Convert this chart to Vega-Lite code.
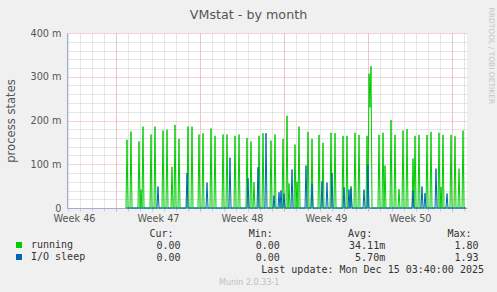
{
  "$schema": "https://vega.github.io/schema/vega-lite/v6.json",
  "width": 400,
  "height": 175,
  "autosize": {"type": "none"},
  "padding": {"left": 67, "top": 33, "right": 30, "bottom": 84},
  "background": "#f0f0f0",
  "config": {
    "view": {"fill": "#ffffff", "stroke": null},
    "font": "DejaVu Sans",
    "axis": {"labelFont": "DejaVu Sans", "titleFont": "DejaVu Sans", "titleFontWeight": "normal"}
  },
  "datasets": {
    "series": [
      {"t": "2025-11-17T20:00Z", "running": 0, "I/O sleep": 0},
      {"t": "2025-11-17T22:00Z", "running": 0.156, "I/O sleep": 0},
      {"t": "2025-11-18T00:00Z", "running": 0, "I/O sleep": 0},
      {"t": "2025-11-18T04:00Z", "running": 0, "I/O sleep": 0},
      {"t": "2025-11-18T06:00Z", "running": 0.175, "I/O sleep": 0},
      {"t": "2025-11-18T08:00Z", "running": 0, "I/O sleep": 0},
      {"t": "2025-11-18T20:00Z", "running": 0, "I/O sleep": 0},
      {"t": "2025-11-18T22:00Z", "running": 0.152, "I/O sleep": 0},
      {"t": "2025-11-19T00:00Z", "running": 0, "I/O sleep": 0},
      {"t": "2025-11-19T02:00Z", "running": 0.042, "I/O sleep": 0},
      {"t": "2025-11-19T04:00Z", "running": 0, "I/O sleep": 0},
      {"t": "2025-11-19T06:00Z", "running": 0.186, "I/O sleep": 0},
      {"t": "2025-11-19T08:00Z", "running": 0, "I/O sleep": 0},
      {"t": "2025-11-19T20:00Z", "running": 0, "I/O sleep": 0},
      {"t": "2025-11-19T22:00Z", "running": 0.168, "I/O sleep": 0},
      {"t": "2025-11-20T00:00Z", "running": 0, "I/O sleep": 0},
      {"t": "2025-11-20T04:00Z", "running": 0, "I/O sleep": 0},
      {"t": "2025-11-20T06:00Z", "running": 0.186, "I/O sleep": 0},
      {"t": "2025-11-20T08:00Z", "running": 0, "I/O sleep": 0},
      {"t": "2025-11-20T10:00Z", "running": 0, "I/O sleep": 0},
      {"t": "2025-11-20T12:00Z", "running": 0, "I/O sleep": 0.049},
      {"t": "2025-11-20T14:00Z", "running": 0, "I/O sleep": 0},
      {"t": "2025-11-20T20:00Z", "running": 0, "I/O sleep": 0},
      {"t": "2025-11-20T22:00Z", "running": 0.177, "I/O sleep": 0},
      {"t": "2025-11-21T00:00Z", "running": 0, "I/O sleep": 0},
      {"t": "2025-11-21T04:00Z", "running": 0, "I/O sleep": 0},
      {"t": "2025-11-21T06:00Z", "running": 0.179, "I/O sleep": 0},
      {"t": "2025-11-21T08:00Z", "running": 0, "I/O sleep": 0},
      {"t": "2025-11-21T14:00Z", "running": 0, "I/O sleep": 0},
      {"t": "2025-11-21T16:00Z", "running": 0.094, "I/O sleep": 0},
      {"t": "2025-11-21T18:00Z", "running": 0, "I/O sleep": 0},
      {"t": "2025-11-21T20:00Z", "running": 0, "I/O sleep": 0},
      {"t": "2025-11-21T22:00Z", "running": 0.19, "I/O sleep": 0},
      {"t": "2025-11-22T00:00Z", "running": 0, "I/O sleep": 0},
      {"t": "2025-11-22T04:00Z", "running": 0, "I/O sleep": 0},
      {"t": "2025-11-22T06:00Z", "running": 0.158, "I/O sleep": 0},
      {"t": "2025-11-22T08:00Z", "running": 0, "I/O sleep": 0},
      {"t": "2025-11-22T20:00Z", "running": 0, "I/O sleep": 0},
      {"t": "2025-11-22T22:00Z", "running": 0, "I/O sleep": 0.08},
      {"t": "2025-11-23T00:00Z", "running": 0.186, "I/O sleep": 0},
      {"t": "2025-11-23T02:00Z", "running": 0, "I/O sleep": 0},
      {"t": "2025-11-23T06:00Z", "running": 0, "I/O sleep": 0},
      {"t": "2025-11-23T08:00Z", "running": 0.186, "I/O sleep": 0},
      {"t": "2025-11-23T10:00Z", "running": 0, "I/O sleep": 0},
      {"t": "2025-11-23T20:00Z", "running": 0, "I/O sleep": 0},
      {"t": "2025-11-23T22:00Z", "running": 0.168, "I/O sleep": 0},
      {"t": "2025-11-24T00:00Z", "running": 0, "I/O sleep": 0},
      {"t": "2025-11-24T04:00Z", "running": 0, "I/O sleep": 0},
      {"t": "2025-11-24T06:00Z", "running": 0.171, "I/O sleep": 0},
      {"t": "2025-11-24T08:00Z", "running": 0, "I/O sleep": 0},
      {"t": "2025-11-24T12:00Z", "running": 0, "I/O sleep": 0},
      {"t": "2025-11-24T14:00Z", "running": 0, "I/O sleep": 0.058},
      {"t": "2025-11-24T16:00Z", "running": 0, "I/O sleep": 0},
      {"t": "2025-11-24T20:00Z", "running": 0, "I/O sleep": 0},
      {"t": "2025-11-24T22:00Z", "running": 0.182, "I/O sleep": 0},
      {"t": "2025-11-25T00:00Z", "running": 0, "I/O sleep": 0},
      {"t": "2025-11-25T04:00Z", "running": 0, "I/O sleep": 0},
      {"t": "2025-11-25T06:00Z", "running": 0.165, "I/O sleep": 0},
      {"t": "2025-11-25T08:00Z", "running": 0, "I/O sleep": 0},
      {"t": "2025-11-25T20:00Z", "running": 0, "I/O sleep": 0},
      {"t": "2025-11-25T22:00Z", "running": 0.168, "I/O sleep": 0},
      {"t": "2025-11-26T00:00Z", "running": 0, "I/O sleep": 0},
      {"t": "2025-11-26T04:00Z", "running": 0, "I/O sleep": 0},
      {"t": "2025-11-26T06:00Z", "running": 0.168, "I/O sleep": 0},
      {"t": "2025-11-26T08:00Z", "running": 0, "I/O sleep": 0},
      {"t": "2025-11-26T10:00Z", "running": 0, "I/O sleep": 0},
      {"t": "2025-11-26T12:00Z", "running": 0, "I/O sleep": 0.115},
      {"t": "2025-11-26T14:00Z", "running": 0, "I/O sleep": 0},
      {"t": "2025-11-26T20:00Z", "running": 0, "I/O sleep": 0},
      {"t": "2025-11-26T22:00Z", "running": 0.165, "I/O sleep": 0},
      {"t": "2025-11-27T00:00Z", "running": 0, "I/O sleep": 0},
      {"t": "2025-11-27T04:00Z", "running": 0, "I/O sleep": 0},
      {"t": "2025-11-27T06:00Z", "running": 0.168, "I/O sleep": 0},
      {"t": "2025-11-27T08:00Z", "running": 0, "I/O sleep": 0},
      {"t": "2025-11-27T20:00Z", "running": 0, "I/O sleep": 0},
      {"t": "2025-11-27T22:00Z", "running": 0.16, "I/O sleep": 0},
      {"t": "2025-11-28T00:00Z", "running": 0, "I/O sleep": 0.068},
      {"t": "2025-11-28T02:00Z", "running": 0, "I/O sleep": 0},
      {"t": "2025-11-28T04:00Z", "running": 0, "I/O sleep": 0},
      {"t": "2025-11-28T06:00Z", "running": 0.152, "I/O sleep": 0},
      {"t": "2025-11-28T08:00Z", "running": 0, "I/O sleep": 0},
      {"t": "2025-11-28T10:00Z", "running": 0, "I/O sleep": 0},
      {"t": "2025-11-28T12:00Z", "running": 0.059, "I/O sleep": 0},
      {"t": "2025-11-28T14:00Z", "running": 0, "I/O sleep": 0},
      {"t": "2025-11-28T18:00Z", "running": 0, "I/O sleep": 0},
      {"t": "2025-11-28T20:00Z", "running": 0, "I/O sleep": 0.093},
      {"t": "2025-11-28T22:00Z", "running": 0.165, "I/O sleep": 0},
      {"t": "2025-11-29T00:00Z", "running": 0, "I/O sleep": 0},
      {"t": "2025-11-29T04:00Z", "running": 0, "I/O sleep": 0},
      {"t": "2025-11-29T06:00Z", "running": 0.171, "I/O sleep": 0},
      {"t": "2025-11-29T08:00Z", "running": 0, "I/O sleep": 0},
      {"t": "2025-11-29T10:00Z", "running": 0, "I/O sleep": 0},
      {"t": "2025-11-29T12:00Z", "running": 0, "I/O sleep": 0.171},
      {"t": "2025-11-29T14:00Z", "running": 0, "I/O sleep": 0},
      {"t": "2025-11-29T20:00Z", "running": 0, "I/O sleep": 0},
      {"t": "2025-11-29T22:00Z", "running": 0.154, "I/O sleep": 0},
      {"t": "2025-11-30T00:00Z", "running": 0, "I/O sleep": 0},
      {"t": "2025-11-30T02:00Z", "running": 0, "I/O sleep": 0},
      {"t": "2025-11-30T04:00Z", "running": 0, "I/O sleep": 0.028},
      {"t": "2025-11-30T06:00Z", "running": 0.168, "I/O sleep": 0},
      {"t": "2025-11-30T08:00Z", "running": 0, "I/O sleep": 0},
      {"t": "2025-11-30T12:00Z", "running": 0, "I/O sleep": 0},
      {"t": "2025-11-30T14:00Z", "running": 0, "I/O sleep": 0.036},
      {"t": "2025-11-30T16:00Z", "running": 0, "I/O sleep": 0},
      {"t": "2025-11-30T18:00Z", "running": 0, "I/O sleep": 0.04},
      {"t": "2025-11-30T20:00Z", "running": 0, "I/O sleep": 0},
      {"t": "2025-11-30T22:00Z", "running": 0.158, "I/O sleep": 0},
      {"t": "2025-12-01T00:00Z", "running": 0, "I/O sleep": 0.033},
      {"t": "2025-12-01T02:00Z", "running": 0, "I/O sleep": 0},
      {"t": "2025-12-01T04:00Z", "running": 0, "I/O sleep": 0},
      {"t": "2025-12-01T06:00Z", "running": 0.211, "I/O sleep": 0},
      {"t": "2025-12-01T08:00Z", "running": 0, "I/O sleep": 0},
      {"t": "2025-12-01T10:00Z", "running": 0.056, "I/O sleep": 0},
      {"t": "2025-12-01T12:00Z", "running": 0, "I/O sleep": 0},
      {"t": "2025-12-01T14:00Z", "running": 0, "I/O sleep": 0},
      {"t": "2025-12-01T16:00Z", "running": 0, "I/O sleep": 0.088},
      {"t": "2025-12-01T18:00Z", "running": 0, "I/O sleep": 0},
      {"t": "2025-12-01T20:00Z", "running": 0, "I/O sleep": 0},
      {"t": "2025-12-01T22:00Z", "running": 0.145, "I/O sleep": 0},
      {"t": "2025-12-02T00:00Z", "running": 0, "I/O sleep": 0},
      {"t": "2025-12-02T02:00Z", "running": 0.06, "I/O sleep": 0},
      {"t": "2025-12-02T04:00Z", "running": 0, "I/O sleep": 0},
      {"t": "2025-12-02T06:00Z", "running": 0.186, "I/O sleep": 0},
      {"t": "2025-12-02T08:00Z", "running": 0, "I/O sleep": 0},
      {"t": "2025-12-02T18:00Z", "running": 0, "I/O sleep": 0},
      {"t": "2025-12-02T20:00Z", "running": 0, "I/O sleep": 0.097},
      {"t": "2025-12-02T22:00Z", "running": 0, "I/O sleep": 0},
      {"t": "2025-12-03T00:00Z", "running": 0.174, "I/O sleep": 0},
      {"t": "2025-12-03T02:00Z", "running": 0, "I/O sleep": 0},
      {"t": "2025-12-03T06:00Z", "running": 0, "I/O sleep": 0},
      {"t": "2025-12-03T08:00Z", "running": 0.158, "I/O sleep": 0.056},
      {"t": "2025-12-03T10:00Z", "running": 0, "I/O sleep": 0},
      {"t": "2025-12-03T20:00Z", "running": 0, "I/O sleep": 0},
      {"t": "2025-12-03T22:00Z", "running": 0.167, "I/O sleep": 0},
      {"t": "2025-12-04T00:00Z", "running": 0, "I/O sleep": 0},
      {"t": "2025-12-04T02:00Z", "running": 0, "I/O sleep": 0},
      {"t": "2025-12-04T04:00Z", "running": 0, "I/O sleep": 0.061},
      {"t": "2025-12-04T06:00Z", "running": 0.149, "I/O sleep": 0},
      {"t": "2025-12-04T08:00Z", "running": 0, "I/O sleep": 0},
      {"t": "2025-12-04T12:00Z", "running": 0, "I/O sleep": 0},
      {"t": "2025-12-04T14:00Z", "running": 0, "I/O sleep": 0.058},
      {"t": "2025-12-04T16:00Z", "running": 0, "I/O sleep": 0},
      {"t": "2025-12-04T20:00Z", "running": 0, "I/O sleep": 0},
      {"t": "2025-12-04T22:00Z", "running": 0.172, "I/O sleep": 0},
      {"t": "2025-12-05T00:00Z", "running": 0, "I/O sleep": 0.08},
      {"t": "2025-12-05T02:00Z", "running": 0, "I/O sleep": 0},
      {"t": "2025-12-05T04:00Z", "running": 0, "I/O sleep": 0},
      {"t": "2025-12-05T06:00Z", "running": 0.171, "I/O sleep": 0},
      {"t": "2025-12-05T08:00Z", "running": 0, "I/O sleep": 0},
      {"t": "2025-12-05T20:00Z", "running": 0, "I/O sleep": 0},
      {"t": "2025-12-05T22:00Z", "running": 0.165, "I/O sleep": 0},
      {"t": "2025-12-06T00:00Z", "running": 0, "I/O sleep": 0.047},
      {"t": "2025-12-06T02:00Z", "running": 0, "I/O sleep": 0},
      {"t": "2025-12-06T04:00Z", "running": 0, "I/O sleep": 0},
      {"t": "2025-12-06T06:00Z", "running": 0.165, "I/O sleep": 0},
      {"t": "2025-12-06T08:00Z", "running": 0, "I/O sleep": 0},
      {"t": "2025-12-06T10:00Z", "running": 0, "I/O sleep": 0.042},
      {"t": "2025-12-06T12:00Z", "running": 0, "I/O sleep": 0},
      {"t": "2025-12-06T14:00Z", "running": 0.05, "I/O sleep": 0.045},
      {"t": "2025-12-06T16:00Z", "running": 0, "I/O sleep": 0},
      {"t": "2025-12-06T20:00Z", "running": 0, "I/O sleep": 0},
      {"t": "2025-12-06T22:00Z", "running": 0.172, "I/O sleep": 0},
      {"t": "2025-12-07T00:00Z", "running": 0, "I/O sleep": 0},
      {"t": "2025-12-07T04:00Z", "running": 0, "I/O sleep": 0},
      {"t": "2025-12-07T06:00Z", "running": 0.167, "I/O sleep": 0},
      {"t": "2025-12-07T08:00Z", "running": 0, "I/O sleep": 0},
      {"t": "2025-12-07T14:00Z", "running": 0, "I/O sleep": 0},
      {"t": "2025-12-07T16:00Z", "running": 0, "I/O sleep": 0.042},
      {"t": "2025-12-07T18:00Z", "running": 0, "I/O sleep": 0},
      {"t": "2025-12-07T20:00Z", "running": 0, "I/O sleep": 0},
      {"t": "2025-12-07T22:00Z", "running": 0.165, "I/O sleep": 0},
      {"t": "2025-12-08T00:00Z", "running": 0, "I/O sleep": 0.099},
      {"t": "2025-12-08T02:00Z", "running": 0.307, "I/O sleep": 0},
      {"t": "2025-12-08T04:00Z", "running": 0.23, "I/O sleep": 0},
      {"t": "2025-12-08T06:00Z", "running": 0.324, "I/O sleep": 0},
      {"t": "2025-12-08T08:00Z", "running": 0, "I/O sleep": 0},
      {"t": "2025-12-08T20:00Z", "running": 0, "I/O sleep": 0},
      {"t": "2025-12-08T22:00Z", "running": 0.167, "I/O sleep": 0},
      {"t": "2025-12-09T00:00Z", "running": 0, "I/O sleep": 0},
      {"t": "2025-12-09T04:00Z", "running": 0, "I/O sleep": 0},
      {"t": "2025-12-09T06:00Z", "running": 0.172, "I/O sleep": 0},
      {"t": "2025-12-09T08:00Z", "running": 0, "I/O sleep": 0},
      {"t": "2025-12-09T10:00Z", "running": 0.097, "I/O sleep": 0},
      {"t": "2025-12-09T12:00Z", "running": 0, "I/O sleep": 0},
      {"t": "2025-12-09T20:00Z", "running": 0, "I/O sleep": 0},
      {"t": "2025-12-09T22:00Z", "running": 0.201, "I/O sleep": 0},
      {"t": "2025-12-10T00:00Z", "running": 0, "I/O sleep": 0},
      {"t": "2025-12-10T04:00Z", "running": 0, "I/O sleep": 0},
      {"t": "2025-12-10T06:00Z", "running": 0.167, "I/O sleep": 0},
      {"t": "2025-12-10T08:00Z", "running": 0, "I/O sleep": 0},
      {"t": "2025-12-10T12:00Z", "running": 0, "I/O sleep": 0},
      {"t": "2025-12-10T14:00Z", "running": 0.043, "I/O sleep": 0},
      {"t": "2025-12-10T16:00Z", "running": 0, "I/O sleep": 0},
      {"t": "2025-12-10T20:00Z", "running": 0, "I/O sleep": 0},
      {"t": "2025-12-10T22:00Z", "running": 0.177, "I/O sleep": 0},
      {"t": "2025-12-11T00:00Z", "running": 0, "I/O sleep": 0},
      {"t": "2025-12-11T04:00Z", "running": 0, "I/O sleep": 0},
      {"t": "2025-12-11T06:00Z", "running": 0.18, "I/O sleep": 0},
      {"t": "2025-12-11T08:00Z", "running": 0, "I/O sleep": 0},
      {"t": "2025-12-11T16:00Z", "running": 0, "I/O sleep": 0},
      {"t": "2025-12-11T18:00Z", "running": 0.113, "I/O sleep": 0.04},
      {"t": "2025-12-11T20:00Z", "running": 0, "I/O sleep": 0},
      {"t": "2025-12-11T22:00Z", "running": 0.165, "I/O sleep": 0},
      {"t": "2025-12-12T00:00Z", "running": 0, "I/O sleep": 0},
      {"t": "2025-12-12T04:00Z", "running": 0, "I/O sleep": 0},
      {"t": "2025-12-12T06:00Z", "running": 0.167, "I/O sleep": 0},
      {"t": "2025-12-12T08:00Z", "running": 0, "I/O sleep": 0},
      {"t": "2025-12-12T10:00Z", "running": 0, "I/O sleep": 0},
      {"t": "2025-12-12T12:00Z", "running": 0, "I/O sleep": 0.049},
      {"t": "2025-12-12T14:00Z", "running": 0, "I/O sleep": 0},
      {"t": "2025-12-12T16:00Z", "running": 0, "I/O sleep": 0},
      {"t": "2025-12-12T18:00Z", "running": 0, "I/O sleep": 0.034},
      {"t": "2025-12-12T20:00Z", "running": 0, "I/O sleep": 0},
      {"t": "2025-12-12T22:00Z", "running": 0.167, "I/O sleep": 0},
      {"t": "2025-12-13T00:00Z", "running": 0, "I/O sleep": 0},
      {"t": "2025-12-13T04:00Z", "running": 0, "I/O sleep": 0},
      {"t": "2025-12-13T06:00Z", "running": 0.174, "I/O sleep": 0},
      {"t": "2025-12-13T08:00Z", "running": 0, "I/O sleep": 0},
      {"t": "2025-12-13T14:00Z", "running": 0, "I/O sleep": 0},
      {"t": "2025-12-13T16:00Z", "running": 0, "I/O sleep": 0.09},
      {"t": "2025-12-13T18:00Z", "running": 0, "I/O sleep": 0},
      {"t": "2025-12-13T20:00Z", "running": 0, "I/O sleep": 0},
      {"t": "2025-12-13T22:00Z", "running": 0.172, "I/O sleep": 0},
      {"t": "2025-12-14T00:00Z", "running": 0, "I/O sleep": 0},
      {"t": "2025-12-14T02:00Z", "running": 0.048, "I/O sleep": 0},
      {"t": "2025-12-14T04:00Z", "running": 0, "I/O sleep": 0},
      {"t": "2025-12-14T06:00Z", "running": 0.167, "I/O sleep": 0},
      {"t": "2025-12-14T08:00Z", "running": 0, "I/O sleep": 0},
      {"t": "2025-12-14T12:00Z", "running": 0, "I/O sleep": 0},
      {"t": "2025-12-14T14:00Z", "running": 0, "I/O sleep": 0.033},
      {"t": "2025-12-14T16:00Z", "running": 0, "I/O sleep": 0},
      {"t": "2025-12-14T20:00Z", "running": 0, "I/O sleep": 0},
      {"t": "2025-12-14T22:00Z", "running": 0.167, "I/O sleep": 0},
      {"t": "2025-12-15T00:00Z", "running": 0, "I/O sleep": 0},
      {"t": "2025-12-15T04:00Z", "running": 0, "I/O sleep": 0},
      {"t": "2025-12-15T06:00Z", "running": 0.164, "I/O sleep": 0},
      {"t": "2025-12-15T08:00Z", "running": 0, "I/O sleep": 0},
      {"t": "2025-12-15T12:00Z", "running": 0, "I/O sleep": 0},
      {"t": "2025-12-15T14:00Z", "running": 0.09, "I/O sleep": 0},
      {"t": "2025-12-15T16:00Z", "running": 0, "I/O sleep": 0},
      {"t": "2025-12-15T20:00Z", "running": 0, "I/O sleep": 0},
      {"t": "2025-12-15T22:00Z", "running": 0.177, "I/O sleep": 0},
      {"t": "2025-12-16T00:00Z", "running": 0, "I/O sleep": 0},
      {"t": "2025-12-16T04:00Z", "running": 0, "I/O sleep": 0}
    ],
    "table": [
      {"row": "hdr", "stat": "Cur", "value": "Cur:", "unit": ""},
      {"row": "hdr", "stat": "Min", "value": "Min:", "unit": ""},
      {"row": "hdr", "stat": "Avg", "value": "Avg:", "unit": ""},
      {"row": "hdr", "stat": "Max", "value": "Max:", "unit": ""},
      {"row": "running", "stat": "Cur", "value": "0.00", "unit": ""},
      {"row": "running", "stat": "Min", "value": "0.00", "unit": ""},
      {"row": "running", "stat": "Avg", "value": "34.11", "unit": "m"},
      {"row": "running", "stat": "Max", "value": "1.80", "unit": ""},
      {"row": "I/O sleep", "stat": "Cur", "value": "0.00", "unit": ""},
      {"row": "I/O sleep", "stat": "Min", "value": "0.00", "unit": ""},
      {"row": "I/O sleep", "stat": "Avg", "value": "5.70", "unit": "m"},
      {"row": "I/O sleep", "stat": "Max", "value": "1.93", "unit": ""}
    ]
  },
  "layer": [
    {
      "data": {"name": "series"},
      "transform": [{"fold": ["running", "I/O sleep"], "as": ["series", "value"]}],
      "layer": [
        {
          "transform": [{"filter": "datum.series === 'running'"}],
          "mark": {"type": "line", "strokeWidth": 1, "interpolate": "linear"},
          "encoding": {
            "x": {
              "field": "t", "type": "temporal",
              "scale": {"type": "utc", "domain": [{"year": 2025, "month": 11, "date": 12, "hours": 22, "utc": true}, {"year": 2025, "month": 12, "date": 16, "hours": 6, "utc": true}]},
              "axis": {
                "orient": "bottom", "grid": true, "gridColor": "#cccccc", "gridDash": [1, 1],
                "tickCount": {"interval": "day", "step": 1}, "ticks": true, "tickColor": "#cccccc", "tickSize": 3,
                "labels": false, "domain": false,
                "title": "VMstat - by month", "titleX": 181, "titleY": -190, "titleAlign": "center", "titleBaseline": "alphabetic",
                "titleFontSize": 12.7, "titleColor": "#555555", "titleAnchor": null
              }
            },
            "y": {
              "field": "value", "type": "quantitative",
              "scale": {"domain": [0, 0.4], "nice": false},
              "axis": {
                "orient": "right", "values": [0.02, 0.04, 0.06, 0.08, 0.12, 0.14, 0.16, 0.18, 0.22, 0.24, 0.26, 0.28, 0.32, 0.34, 0.36, 0.38],
                "grid": true, "gridColor": "#cccccc", "gridDash": [1, 1], "ticks": false, "labels": false, "domain": false,
                "title": "RRDTOOL / TOBI OETIKER", "titleAngle": 90, "titleX": 23, "titleY": -26, "titleAlign": "left", "titleBaseline": "middle",
                "titleFontSize": 7.5, "titleColor": "#c4c4c4"
              }
            },
            "color": {
              "field": "series", "type": "nominal",
              "scale": {"domain": ["running", "I/O sleep"], "range": ["#00cc00", "#0066b3"]},
              "legend": {
                "orient": "none", "legendX": -53, "legendY": 207, "direction": "vertical", "title": null,
                "symbolType": "square", "symbolSize": 36, "symbolStrokeWidth": 0,
                "labelFont": "DejaVu Sans Mono", "labelFontSize": 10, "labelColor": "#333333", "labelOffset": 7,
                "rowPadding": 2, "padding": 0, "offset": 0,
                "encode": {"symbols": {"update": {"fill": {"scale": "color", "field": "value"}, "fillOpacity": {"value": 1}}}}
              }
            }
          }
        },
        {
          "transform": [{"filter": "datum.series === 'I/O sleep'"}],
          "mark": {"type": "line", "strokeWidth": 1, "interpolate": "linear"},
          "encoding": {
            "x": {
              "field": "t", "type": "temporal",
              "scale": {"type": "utc", "domain": [{"year": 2025, "month": 11, "date": 12, "hours": 22, "utc": true}, {"year": 2025, "month": 12, "date": 16, "hours": 6, "utc": true}]},
              "axis": {
                "orient": "bottom",
                "values": [
                  {"year": 2025, "month": 11, "date": 17, "utc": true},
                  {"year": 2025, "month": 11, "date": 24, "utc": true},
                  {"year": 2025, "month": 12, "date": 1, "utc": true},
                  {"year": 2025, "month": 12, "date": 8, "utc": true},
                  {"year": 2025, "month": 12, "date": 15, "utc": true}
                ],
                "grid": true, "gridColor": "#f2a6a6", "gridDash": [1, 1],
                "ticks": true, "tickColor": "#f2a6a6", "tickSize": 3,
                "labelExpr": "'Week ' + utcFormat(datum.value - 302400000, '%V')",
                "labelOffset": -42, "labelPadding": 2, "labelFontSize": 9.7, "labelColor": "#555555",
                "labelOverlap": false, "labelFlush": false, "labelBound": false,
                "domain": true, "domainColor": "#a4acdc", "domainWidth": 1,
                "title": "Munin 2.0.33-1", "titleX": 181.7, "titleY": 76.3, "titleAlign": "center", "titleBaseline": "alphabetic",
                "titleFontSize": 8, "titleColor": "#c0c0c0", "titleAnchor": null
              }
            },
            "y": {
              "field": "value", "type": "quantitative",
              "scale": {"domain": [0, 0.4], "nice": false},
              "axis": {
                "orient": "left", "values": [0, 0.1, 0.2, 0.3, 0.4],
                "grid": true, "gridColor": "#f2a6a6", "gridDash": [1, 1], "ticks": false,
                "labelPadding": 6, "labelFontSize": 9.7, "labelColor": "#555555",
                "labelExpr": "datum.value == 0 ? '0\u00a0\u00a0' : format(datum.value * 1000, 'd') + ' m'",
                "labelOverlap": false, "labelFlush": false, "labelBound": false,
                "domain": true, "domainColor": "#a4acdc", "domainWidth": 1,
                "title": "process states", "titleX": -56, "titleY": 87.5, "titleAngle": -90, "titleAlign": "center", "titleBaseline": "middle",
                "titleFontSize": 11.6, "titleColor": "#555555"
              }
            },
            "color": {"field": "series", "type": "nominal", "scale": {"domain": ["running", "I/O sleep"], "range": ["#00cc00", "#0066b3"]}}
          }
        }
      ],
      "resolve": {"axis": {"x": "independent", "y": "independent"}}
    },
    {
      "data": {"name": "table"},
      "layer": [
        {
          "transform": [{"filter": "datum.row === 'hdr'"}],
          "mark": {"type": "text", "align": "right", "baseline": "alphabetic", "dx": -7, "font": "DejaVu Sans Mono", "fontSize": 10, "color": "#333333"},
          "encoding": {
            "x": {"field": "stat", "type": "nominal", "scale": {"type": "point", "domain": ["Cur", "Min", "Avg", "Max"], "range": [113.5, 411.5], "padding": 0}, "axis": null},
            "y": {"field": "row", "type": "nominal", "scale": {"type": "point", "domain": ["hdr", "running", "I/O sleep", "upd"], "range": [204, 240], "padding": 0}, "axis": null},
            "text": {"field": "value"}
          }
        },
        {
          "transform": [{"filter": "datum.row !== 'hdr'"}],
          "mark": {"type": "text", "align": "right", "baseline": "alphabetic", "font": "DejaVu Sans Mono", "fontSize": 10, "color": "#333333"},
          "encoding": {
            "x": {"field": "stat", "type": "nominal", "axis": null},
            "y": {"field": "row", "type": "nominal", "axis": null},
            "text": {"field": "value"}
          }
        },
        {
          "transform": [{"filter": "datum.unit !== ''"}],
          "mark": {"type": "text", "align": "left", "baseline": "alphabetic", "font": "DejaVu Sans Mono", "fontSize": 10, "color": "#333333"},
          "encoding": {
            "x": {"field": "stat", "type": "nominal", "axis": null},
            "y": {"field": "row", "type": "nominal", "axis": null},
            "text": {"field": "unit"}
          }
        },
        {
          "data": {"values": [{"text": "Last update: Mon Dec 15 03:40:00 2025"}]},
          "mark": {"type": "text", "align": "right", "baseline": "alphabetic", "dx": 5.5, "font": "DejaVu Sans Mono", "fontSize": 10, "color": "#333333"},
          "encoding": {
            "x": {"datum": "Max", "type": "nominal", "axis": null},
            "y": {"datum": "upd", "type": "nominal", "axis": null},
            "text": {"field": "text"}
          }
        }
      ]
    }
  ],
  "resolve": {"scale": {"x": "independent", "y": "independent"}}
}
